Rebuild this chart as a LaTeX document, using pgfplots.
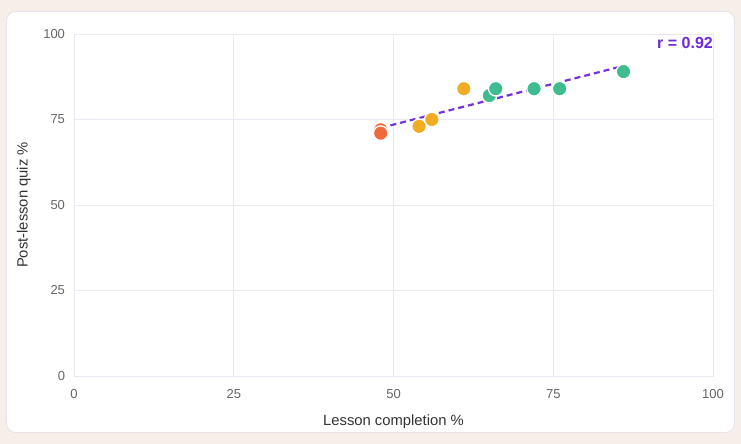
\documentclass[border=0pt]{standalone}
\usepackage{pgfplots}
\pgfplotsset{compat=1.18}
\usepackage{fontspec}
\setmainfont{Liberation Sans}
\definecolor{bgc}{HTML}{F6EEE8}
\definecolor{cardb}{HTML}{E8E2EC}
\definecolor{gridc}{HTML}{ECE8F3}
\definecolor{tickc}{HTML}{666666}
\definecolor{labc}{HTML}{333333}
\definecolor{redp}{HTML}{EE6B3B}
\definecolor{yelp}{HTML}{F0AD24}
\definecolor{grnp}{HTML}{3DBD8E}
\definecolor{purp}{HTML}{6D28D9}
\begin{document}
\begin{tikzpicture}[x=1bp,y=1bp]
\fill[bgc] (0,0) rectangle (741,444);
\filldraw[fill=white,draw=cardb,line width=0.8bp,rounded corners=9bp] (6.5,11.5) rectangle (734.5,432.5);
\begin{axis}[
  at={(74bp,68bp)}, anchor=south west,
  scale only axis, width=639bp, height=342bp,
  xmin=0, xmax=100, ymin=0, ymax=100,
  xtick={0,25,50,75,100}, ytick={0,25,50,75,100},
  grid=major, major grid style={draw=gridc, line width=0.8bp},
  axis line style={draw=gridc, line width=0.8bp},
  tick style={draw=none},
  ticklabel style={font=\fontsize{13bp}{15bp}\selectfont, text=tickc},
  /pgf/number format/assume math mode=true,
  xticklabel style={anchor=base, yshift=-23bp},
  yticklabel style={anchor=east, xshift=-5.5bp},
  xlabel={Lesson completion \%}, ylabel={Post-lesson quiz \%},
  label style={font=\fontsize{14.8bp}{17bp}\selectfont, text=labc},
  xlabel style={at={(axis description cs:0.5,-0.1345)}, anchor=center},
  ylabel style={at={(axis description cs:-0.0785,0.5)}, anchor=center, rotate=0},
  clip=false,
]
\addplot[only marks, mark=*, mark size=7.3bp, mark options={fill=redp, draw=white, line width=1.3bp}] coordinates {(48,72) (48,71)};
\addplot[only marks, mark=*, mark size=7.3bp, mark options={fill=yelp, draw=white, line width=1.3bp}] coordinates {(54,73) (56,75) (61,84)};
\addplot[only marks, mark=*, mark size=7.3bp, mark options={fill=grnp, draw=white, line width=1.3bp}] coordinates {(65,82) (66,84) (72,84) (76,84) (86,89)};
\addplot[purp, line width=2.2bp, dash pattern=on 6bp off 4bp, opacity=0.95] coordinates {(48,72.55) (86,90.68)};
\node[anchor=north east, inner sep=0pt, yshift=-3.5bp, font=\bfseries\fontsize{16bp}{18bp}\selectfont, text=purp] at (axis cs:100,100) {r = 0.92};
\end{axis}
\end{tikzpicture}
\end{document}
